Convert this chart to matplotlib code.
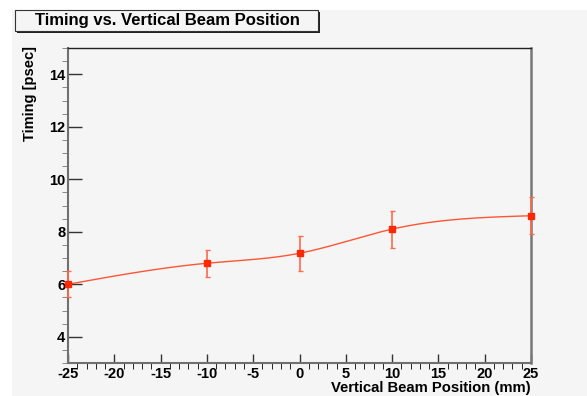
import numpy as np
import matplotlib
matplotlib.use("Agg")
import matplotlib.pyplot as plt
from matplotlib.patches import Rectangle
from matplotlib.ticker import MultipleLocator

# data
position = [-25, -10, 0, 10, 25]
timing = [6.0, 6.8, 7.18, 8.1, 8.61]
timing_err = [0.5, 0.52, 0.66, 0.7, 0.7]
xticks = [-25, -20, -15, -10, -5, 0, 5, 10, 15, 20, 25]
yticks = [4, 6, 8, 10, 12, 14]

plt.rcParams['font.family'] = ['Liberation Sans', 'DejaVu Sans']
plt.rcParams['font.weight'] = 'bold'
plt.rcParams['axes.unicode_minus'] = False


def natural_spline(x, y, n=300):
    # smooth curve through the points, like ROOT's "C" draw option
    x = np.asarray(x, float)
    y = np.asarray(y, float)
    k = len(x)
    h = np.diff(x)
    A = np.zeros((k, k))
    b = np.zeros(k)
    A[0, 0] = A[-1, -1] = 1
    for i in range(1, k - 1):
        A[i, i - 1] = h[i - 1]
        A[i, i] = 2 * (h[i - 1] + h[i])
        A[i, i + 1] = h[i]
        b[i] = 6 * ((y[i + 1] - y[i]) / h[i] - (y[i] - y[i - 1]) / h[i - 1])
    m = np.linalg.solve(A, b)
    xs = np.linspace(x[0], x[-1], n)
    idx = np.clip(np.searchsorted(x, xs) - 1, 0, k - 2)
    t0 = xs - x[idx]
    t1 = x[idx + 1] - xs
    hh = h[idx]
    ys = (m[idx] * t1**3 / (6 * hh) + m[idx + 1] * t0**3 / (6 * hh)
          + (y[idx] / hh - m[idx] * hh / 6) * t1
          + (y[idx + 1] / hh - m[idx + 1] * hh / 6) * t0)
    return xs, ys


fig = plt.figure(figsize=(5.87, 3.96), dpi=100)
fig.patch.set_facecolor('white')
# gray canvas panel
fig.patches.append(Rectangle((12 / 587, 0), 1, 1 - 10 / 396, transform=fig.transFigure,
                             facecolor='#f5f5f5', edgecolor='none', zorder=-5))

ax = fig.add_axes([68 / 587, 33 / 396, 463 / 587, 315 / 396])
ax.set_facecolor('#f5f5f5')

xs, ys = natural_spline(position, timing)
ax.plot(xs, ys, color='#ff5535', lw=1.0, zorder=2, clip_on=False)
ax.errorbar(position, timing, yerr=timing_err, fmt='s', color='#ff2800',
            ecolor='#ff6a4c', elinewidth=1.2, capsize=1.8, capthick=1,
            markersize=4.6, zorder=3, clip_on=False)

ax.set_xlim(-25, 25)
ax.set_ylim(3, 15)
ax.set_xticks(xticks)
ax.set_xticklabels([str(v) for v in xticks], fontweight='bold', fontsize=10.5)
ax.set_yticks(yticks)
ax.set_yticklabels([str(v) for v in yticks], fontweight='bold', fontsize=10.5)
ax.xaxis.set_minor_locator(MultipleLocator(1))
ax.yaxis.set_minor_locator(MultipleLocator(0.5))
ax.tick_params(direction='in', color='#333333', width=1)
ax.tick_params(axis='y', which='major', length=10, pad=2)
ax.tick_params(axis='y', which='minor', length=4.5, color='#777777')
ax.tick_params(axis='x', which='major', length=6.5, pad=3)
ax.tick_params(axis='x', which='minor', length=4)

for side in ['left', 'bottom']:
    ax.spines[side].set_color('#707070')
    ax.spines[side].set_linewidth(1.5)
ax.spines['top'].set_color('#222222')
ax.spines['top'].set_linewidth(1)
ax.spines['right'].set_color('#777777')
ax.spines['right'].set_linewidth(1.8)

fig.text(531 / 587, 1 - 388 / 396, 'Vertical Beam Position (mm)', fontsize=10.7,
         fontweight='bold', ha='right', va='center')
fig.text(30 / 587, 1 - 46 / 396, 'Timing [psec]', fontsize=10.5, fontweight='bold',
         ha='center', va='top', rotation=90)

# title box in ROOT style
fig.patches.append(Rectangle((17 / 587, 1 - 33 / 396), 303 / 587, 21 / 396,
                             transform=fig.transFigure, facecolor='#222222',
                             edgecolor='none', zorder=1))
fig.patches.append(Rectangle((15 / 587, 1 - 31 / 396), 303 / 587, 21 / 396,
                             transform=fig.transFigure, facecolor='#f5f5f5',
                             edgecolor='#333333', lw=0.8, zorder=2))
fig.text(167 / 587, 1 - 20 / 396, 'Timing vs. Vertical Beam Position',
         ha='center', va='center', fontsize=12, fontweight='bold', zorder=3)

fig.savefig('out.png', dpi=100, facecolor=fig.get_facecolor())
